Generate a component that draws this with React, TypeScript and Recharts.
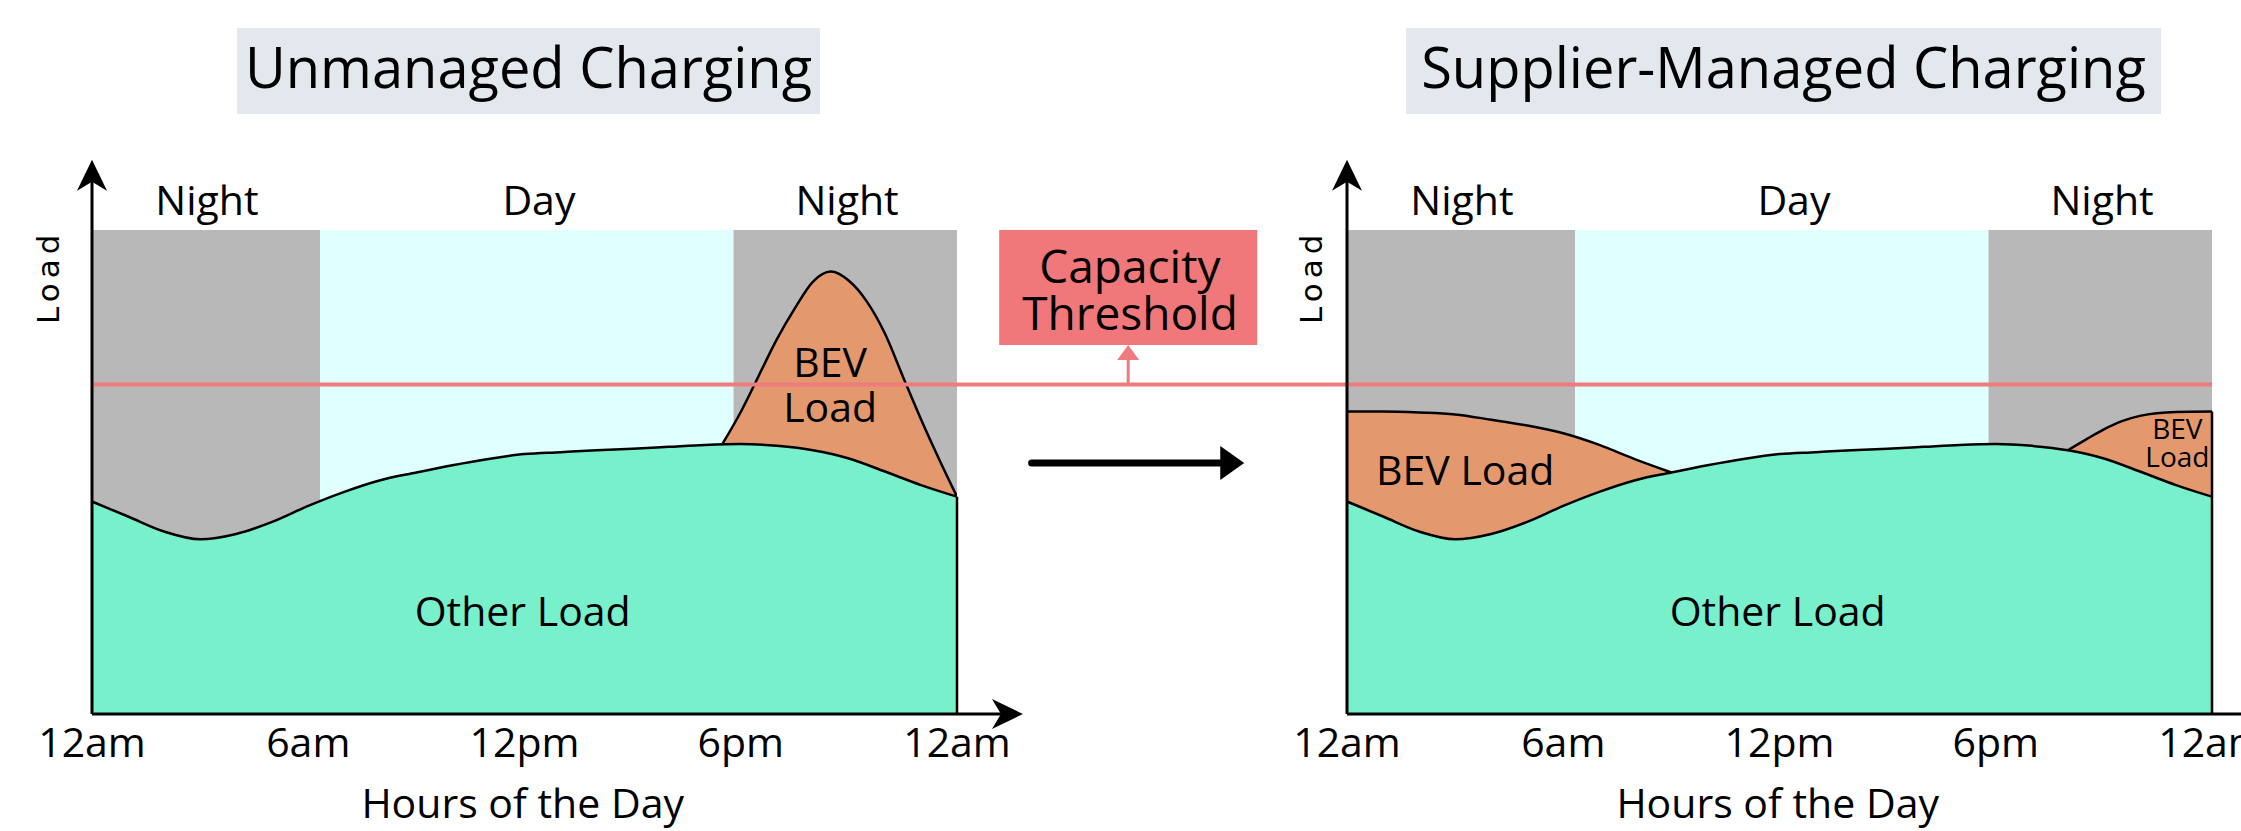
import React from 'react';
import { ComposedChart, Area, XAxis, YAxis, ReferenceArea, ReferenceLine, ReferenceDot } from 'recharts';

// ---------- data ----------
const hourTicks = [0, 6, 12, 18, 24];
const hourTickLabels = ['12am', '6am', '12pm', '6pm', '12am'];

const periodNames = ['Night', 'Day', 'Night'];
const periodStarts = [0, 6.33, 17.8];
const periodEnds = [6.33, 17.8, 24];

const capacityThreshold = 68.1;

const otherHours = [0, 1, 2, 3, 4, 5, 6, 7, 8, 9, 10, 11, 12, 13, 14, 15, 16, 17, 18, 19, 20, 21, 22, 23, 24];
const otherLoad = [43.9, 40.8, 37.7, 36.1, 37.2, 39.7, 43.0, 45.9, 48.3, 49.9, 51.4, 52.7, 53.7, 54.1, 54.5, 54.8, 55.2, 55.6, 55.8, 55.4, 54.5, 52.8, 50.1, 47.3, 44.9];

const unmanagedBevHours = [17.5, 18, 18.5, 19, 19.5, 20, 20.5, 21, 21.5, 22, 22.5, 23, 23.5, 24];
const unmanagedTotalLoad = [55.9, 62.4, 69.9, 77.4, 83.8, 89.3, 91.4, 89.5, 85.2, 78.6, 69.7, 60.9, 52.7, 44.9];

const managedBevHours = [0, 1, 2, 3, 4, 5, 6, 7, 8, 9, 20, 20.5, 21, 21.5, 22, 23, 24];
const managedTotalLoad = [62.5, 62.5, 62.3, 61.9, 60.8, 59.6, 58.0, 55.6, 52.6, 49.9, 54.5, 56.7, 58.8, 60.5, 61.6, 62.4, 62.5];

function buildTable(bevHours: number[], bevTotal: number[]) {
  const hrs = Array.from(new Set([...otherHours, ...bevHours])).sort((a, b) => a - b);
  return hrs.map((h) => {
    const i = otherHours.indexOf(h);
    const j = bevHours.indexOf(h);
    return { hour: h, other: i >= 0 ? otherLoad[i] : null, total: j >= 0 ? bevTotal[j] : null };
  });
}

const unmanagedData = buildTable(unmanagedBevHours, unmanagedTotalLoad);
const managedData = buildTable(managedBevHours, managedTotalLoad);

// ---------- styles ----------
const FONT = "'Open Sans', sans-serif";
const COL = {
  night: '#b8b8b8',
  day: '#e0ffff',
  other: '#78f0cc',
  bev: '#e3996d',
  threshold: '#ef7b7e',
  capBox: '#f0787a',
  title: '#e3e8ef',
};

// ---------- shapes ----------
const axisArrow = (p: any) => {
  const { x1, y1, x2, y2 } = p;
  const dx = x2 - x1;
  const dy = y2 - y1;
  const L = Math.hypot(dx, dy) || 1;
  const ux = dx / L;
  const uy = dy / L;
  const nx = -uy;
  const ny = ux;
  const len = 31;
  const half = 15;
  const notch = 9;
  const bx = x2 - ux * len;
  const by = y2 - uy * len;
  const mx = x2 - ux * (len - notch);
  const my = y2 - uy * (len - notch);
  const d = `M${x2},${y2} L${bx + nx * half},${by + ny * half} L${mx},${my} L${bx - nx * half},${by - ny * half} Z`;
  return (
    <g>
      <line x1={x1} y1={y1} x2={mx} y2={my} stroke="#000" strokeWidth={3} />
      <path d={d} fill="#000" />
    </g>
  );
};

const bigArrow = (p: any) => {
  const { x1, y1, x2, y2 } = p;
  return (
    <g>
      <line x1={x1} y1={y1} x2={x2 - 20} y2={y2} stroke="#000" strokeWidth={7} strokeLinecap="round" />
      <polygon points={`${x2},${y2} ${x2 - 24},${y2 - 17} ${x2 - 24},${y2 + 17}`} fill="#000" />
    </g>
  );
};

const upArrow = (p: any) => {
  const { x1, y1, x2, y2 } = p;
  return (
    <g>
      <line x1={x1} y1={y1} x2={x2} y2={y2 + 14} stroke={COL.threshold} strokeWidth={3} />
      <polygon points={`${x2},${y2} ${x2 - 11},${y2 + 15} ${x2 + 11},${y2 + 15}`} fill={COL.threshold} />
    </g>
  );
};

const plainLine = (color: string, w: number) => (p: any) => (
  <line x1={p.x1} y1={p.y1} x2={p.x2} y2={p.y2} stroke={color} strokeWidth={w} />
);

const textShape = (text: string, fontSize: number, family: string = FONT) => (p: any) => (
  <text x={p.cx} y={p.cy} textAnchor="middle" fontSize={fontSize} fontFamily={family} fill="#000">
    {text}
  </text>
);

const vTextShape = (text: string) => (p: any) => (
  <text
    x={p.cx}
    y={p.cy}
    transform={`rotate(-90, ${p.cx}, ${p.cy})`}
    textAnchor="middle"
    fontSize={31}
    letterSpacing={5}
    fontFamily="'DejaVu Sans', sans-serif"
    fill="#000"
  >
    {text}
  </text>
);

// ---------- panel ----------
function Panel(props: {
  data: any[];
  width: number;
  margin: { top: number; right: number; bottom: number; left: number };
  lastTotal: number;
  loadLabelX: number;
  thresholdEnd: number;
  children?: React.ReactNode;
}) {
  const { data, width, margin, lastTotal, loadLabelX, thresholdEnd } = props;
  return (
    <ComposedChart width={width} height={831} data={data} margin={margin}>
      <XAxis
        dataKey="hour"
        type="number"
        domain={[0, 24]}
        allowDataOverflow
        ticks={hourTicks}
        interval={0}
        tickFormatter={(v: number) => hourTickLabels[hourTicks.indexOf(v)]}
        axisLine={false}
        tickLine={false}
        tickSize={0}
        tickMargin={14}
        height={60}
        tick={{ fontSize: 41, fill: '#000', fontFamily: FONT }}
      />
      <YAxis hide type="number" domain={[0, 100]} allowDataOverflow />
      {periodNames.map((n, i) => (
        <ReferenceArea
          key={'band' + i}
          x1={periodStarts[i]}
          x2={periodEnds[i]}
          y1={0}
          y2={100}
          fill={n === 'Day' ? COL.day : COL.night}
          fillOpacity={1}
          stroke="none"
          ifOverflow="visible"
          zIndex={-150}
        />
      ))}
      <Area
        dataKey="total"
        type="monotone"
        fill={COL.bev}
        fillOpacity={1}
        stroke="#000"
        strokeWidth={2.5}
        connectNulls={false}
        isAnimationActive={false}
        dot={false}
        activeDot={false}
        zIndex={100}
      />
      <Area
        dataKey="other"
        type="monotone"
        fill={COL.other}
        fillOpacity={1}
        stroke="#000"
        strokeWidth={2.5}
        connectNulls
        isAnimationActive={false}
        dot={false}
        activeDot={false}
        zIndex={110}
      />
      <ReferenceLine
        segment={[{ x: 24, y: 0 }, { x: 24, y: lastTotal }]}
        ifOverflow="visible"
        shape={plainLine('#000', 2.5)}
        zIndex={120}
      />
      <ReferenceLine
        segment={[{ x: 0, y: capacityThreshold }, { x: thresholdEnd, y: capacityThreshold }]}
        ifOverflow="visible"
        shape={plainLine(COL.threshold, 4)}
        zIndex={400}
      />
      <ReferenceLine
        segment={[{ x: 0, y: 0 }, { x: 25.83, y: 0 }]}
        ifOverflow="visible"
        shape={axisArrow}
        zIndex={500}
      />
      <ReferenceLine
        segment={[{ x: 0, y: 0 }, { x: 0, y: 114.5 }]}
        ifOverflow="visible"
        shape={axisArrow}
        zIndex={500}
      />
      {periodNames.map((n, i) => (
        <ReferenceDot
          key={'pl' + i}
          x={[3.19, 12.4, 20.95][i]}
          y={103.1}
          r={0}
          ifOverflow="visible"
          shape={textShape(n, 41)}
          zIndex={600}
        />
      ))}
      <ReferenceDot x={11.95} y={18.2} r={0} ifOverflow="visible" shape={textShape('Other Load', 41)} zIndex={600} />
      <ReferenceDot x={11.95} y={-21.55} r={0} ifOverflow="visible" shape={textShape('Hours of the Day', 41)} zIndex={600} />
      <ReferenceDot x={loadLabelX} y={90.35} r={0} ifOverflow="visible" shape={vTextShape('Load')} zIndex={600} />
      {props.children}
    </ComposedChart>
  );
}

export default function App() {
  return (
    <div
      style={{
        position: 'absolute',
        left: 0,
        top: 0,
        width: 2241,
        height: 831,
        overflow: 'hidden',
        background: '#fff',
      }}
    >
      <svg width={2241} height={140} style={{ position: 'absolute', left: 0, top: 0 }}>
        <rect x={237} y={28} width={583} height={86} fill={COL.title} />
        <text x={528.5} y={88.3} textAnchor="middle" fontSize={56} fontFamily={FONT} fill="#000">
          Unmanaged Charging
        </text>
        <rect x={1406} y={28} width={755} height={86} fill={COL.title} />
        <text x={1783.5} y={88.3} textAnchor="middle" fontSize={56} fontFamily={FONT} fill="#000">
          Supplier-Managed Charging
        </text>
      </svg>
      <div style={{ position: 'absolute', left: 0, top: 0 }}>
        <Panel
          data={unmanagedData}
          width={2241}
          margin={{ top: 230, right: 1284, bottom: 57, left: 92 }}
          lastTotal={otherLoad[otherLoad.length - 1]}
          loadLabelX={-0.916}
          thresholdEnd={34.9}
        >
          <ReferenceDot x={20.48} y={69.7} r={0} ifOverflow="visible" shape={textShape('BEV', 41)} zIndex={600} />
          <ReferenceDot x={20.48} y={60.4} r={0} ifOverflow="visible" shape={textShape('Load', 41)} zIndex={600} />
          <ReferenceArea
            x1={25.17}
            x2={32.33}
            y1={76.24}
            y2={100}
            fill={COL.capBox}
            fillOpacity={1}
            stroke="none"
            ifOverflow="visible"
            zIndex={300}
          />
          <ReferenceDot x={28.8} y={88.97} r={0} ifOverflow="visible" shape={textShape('Capacity', 46)} zIndex={600} />
          <ReferenceDot x={28.8} y={79.34} r={0} ifOverflow="visible" shape={textShape('Threshold', 46)} zIndex={600} />
          <ReferenceLine
            segment={[{ x: 28.75, y: capacityThreshold }, { x: 28.75, y: 76.24 }]}
            ifOverflow="visible"
            shape={upArrow}
            zIndex={400}
          />
          <ReferenceLine
            segment={[{ x: 26.07, y: 51.86 }, { x: 31.97, y: 51.86 }]}
            ifOverflow="visible"
            shape={bigArrow}
            zIndex={400}
          />
        </Panel>
      </div>
      <div style={{ position: 'absolute', left: 1100, top: 0 }}>
        <Panel
          data={managedData}
          width={1300}
          margin={{ top: 230, right: 188, bottom: 57, left: 247 }}
          lastTotal={managedTotalLoad[managedTotalLoad.length - 1]}
          loadLabelX={-0.69}
          thresholdEnd={24}
        >
          <ReferenceDot x={3.28} y={47.25} r={0} ifOverflow="visible" shape={textShape('BEV Load', 41)} zIndex={600} />
          <ReferenceDot x={23.04} y={56.8} r={0} ifOverflow="visible" shape={textShape('BEV', 28)} zIndex={600} />
          <ReferenceDot x={23.04} y={51.0} r={0} ifOverflow="visible" shape={textShape('Load', 28)} zIndex={600} />
        </Panel>
      </div>
    </div>
  );
}
